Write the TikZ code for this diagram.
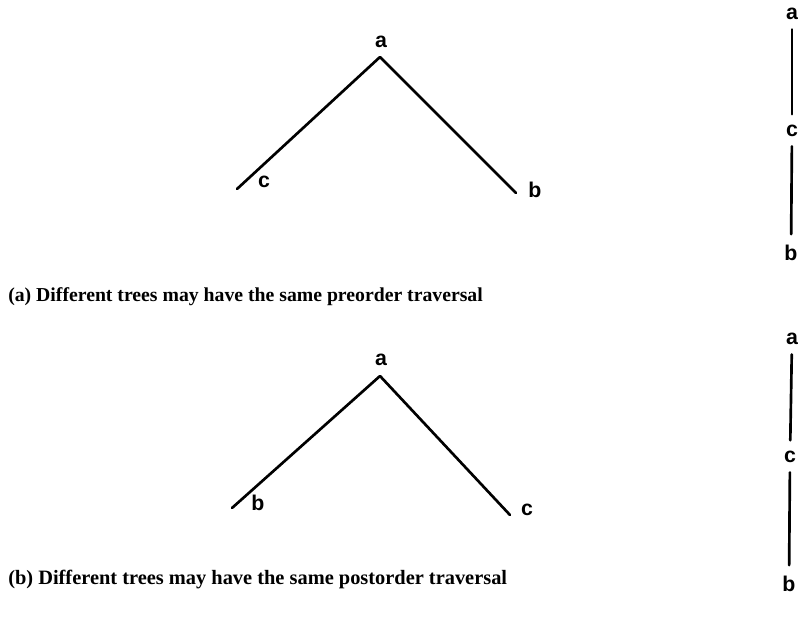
\documentclass[tikz,border=0pt]{standalone}
\usepackage{fontspec}
\setmainfont{Liberation Serif}
\setsansfont{Liberation Sans}
\usetikzlibrary{positioning}

\tikzset{
  lbl/.style={font=\sffamily\bfseries\fontsize{16}{18}\selectfont,inner sep=1pt},
  edge/.style={line width=2pt,line cap=round},
  chain/.style={edge,shorten <=6pt,shorten >=7pt},
  captext/.style={font=\bfseries\fontsize{#1}{18}\selectfont,anchor=west,inner sep=0pt}
}

\begin{document}
\begin{tikzpicture}[x=0.75pt,y=-0.75pt]
  \useasboundingbox (0,0) rectangle (799,620);
  % (a) preorder
  \node[lbl] (a1) at (381,42) {a};
  \coordinate (a1top) at (380,57);
  \coordinate (c1end) at (237,189);
  \coordinate (b1end) at (516,193);
  \node[lbl] (c1) at (264,182) {c};
  \node[lbl] (b1) at (535,190) {b};
  \draw[edge] (a1top) -- (c1end);
  \draw[edge] (a1top) -- (b1end);
  \node[captext=14.8] (capa) at (8,297) {(a) Different trees may have the same preorder traversal};
  % chain on the right
  \node[lbl] (a2) at (792,14) {a};
  \node[lbl] (c2) at (792,131) {c};
  \node[lbl] (b2) at (791,253) {b};
  \draw[chain] (a2) -- (c2);
  \draw[chain] (c2) -- (b2);
  % (b) postorder
  \node[lbl] (a3) at (381,360) {a};
  \coordinate (a3top) at (380,376);
  \coordinate (b3end) at (232,508);
  \coordinate (c3end) at (510,515);
  \node[lbl] (b3) at (258,503) {b};
  \node[lbl] (c3) at (527,510) {c};
  \draw[edge] (a3top) -- (b3end);
  \draw[edge] (a3top) -- (c3end);
  \node[captext=15.3] (capb) at (8,580) {(b) Different trees may have the same postorder traversal};
  % chain on the right
  \node[lbl] (a4) at (792,339) {a};
  \node[lbl] (c4) at (790,457) {c};
  \node[lbl] (b4) at (789,584) {b};
  \draw[chain] (a4) -- (c4);
  \draw[chain] (c4) -- (b4);
\end{tikzpicture}
\end{document}
